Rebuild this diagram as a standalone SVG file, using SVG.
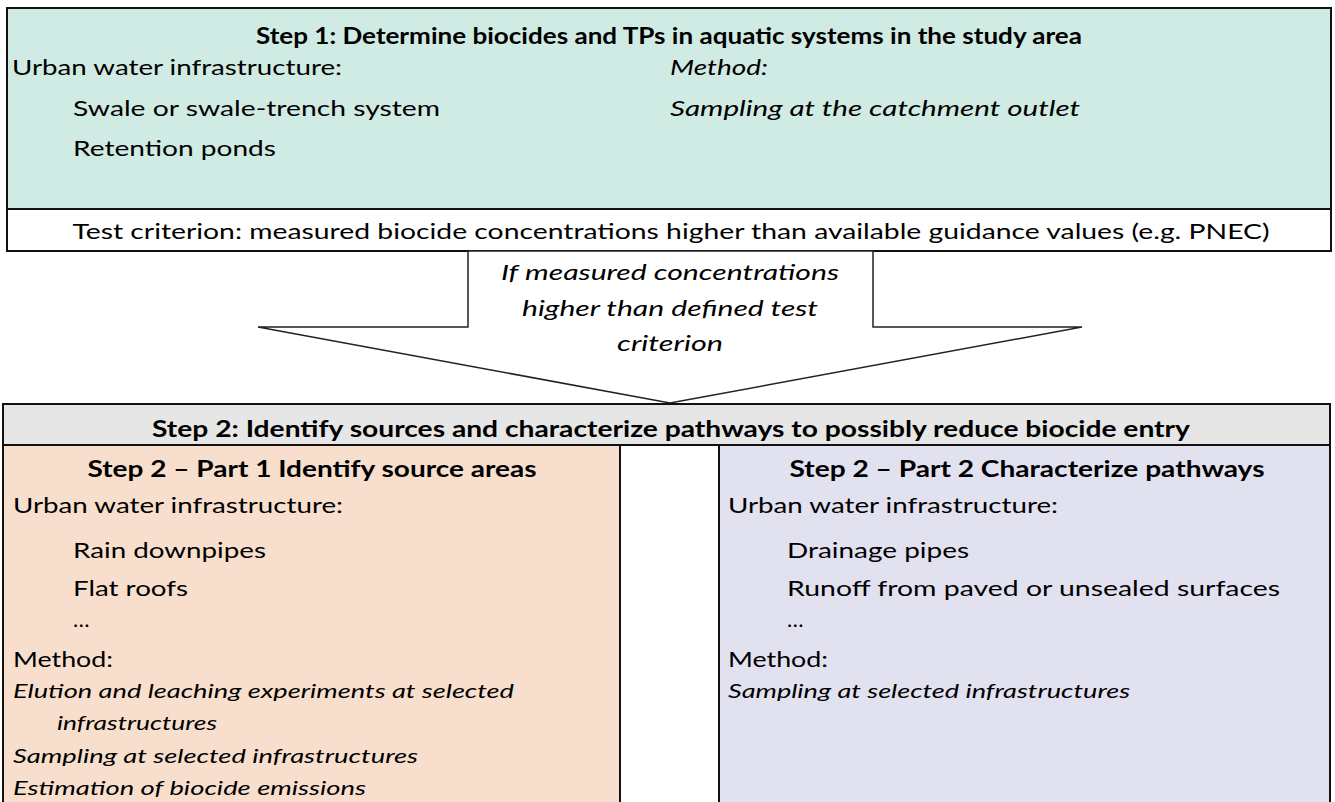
<svg xmlns="http://www.w3.org/2000/svg" width="1335" height="802" viewBox="0 0 1335 802">
<style>
  text { font-family: Lato, "Liberation Sans", sans-serif; fill: #000; }
  .r { font-size: 22px; }
  .b { font-size: 22px; font-weight: bold; }
  .i { font-size: 22px; font-style: italic; }
  .is { font-size: 20px; font-style: italic; }
  .t { font-size: 21px; }
  .c { text-anchor: middle; }
  .box { stroke: #111; stroke-width: 2; }
</style>
<rect width="1335" height="802" fill="#fff"/>

<g id="step1">
  <rect class="box" x="7" y="8" width="1324" height="201" fill="#d0ebe3"/>
  <text class="b c" x="669" y="44" textLength="826" lengthAdjust="spacingAndGlyphs">Step 1: Determine biocides and TPs in aquatic systems in the study area</text>
  <text class="r" x="12" y="75" textLength="330" lengthAdjust="spacingAndGlyphs">Urban water infrastructure:</text>
  <text class="r" x="73" y="116" textLength="367" lengthAdjust="spacingAndGlyphs">Swale or swale-trench system</text>
  <text class="r" x="73" y="156" textLength="203" lengthAdjust="spacingAndGlyphs">Retention ponds</text>
  <text class="i" x="670" y="75" textLength="98" lengthAdjust="spacingAndGlyphs">Method:</text>
  <text class="i" x="670" y="116" textLength="410" lengthAdjust="spacingAndGlyphs">Sampling at the catchment outlet</text>
</g>

<g id="test-criterion">
  <rect class="box" x="7" y="209" width="1324" height="42" fill="#fff"/>
  <text class="t c" x="671" y="239" textLength="1197" lengthAdjust="spacingAndGlyphs">Test criterion: measured biocide concentrations higher than available guidance values (e.g. PNEC)</text>
</g>

<g id="connectors">
  <polygon points="468,251 873,251 873,327 1082,327 670,403 258,327 468,327" fill="#fff" stroke="#222" stroke-width="1.5" stroke-linejoin="miter"/>
  <text class="i c" x="670" y="280" textLength="338" lengthAdjust="spacingAndGlyphs">If measured concentrations</text>
  <text class="i c" x="670" y="316" textLength="296" lengthAdjust="spacingAndGlyphs">higher than defined test</text>
  <text class="i c" x="670" y="351" textLength="106" lengthAdjust="spacingAndGlyphs">criterion</text>
</g>

<g id="step2">
  <rect class="box" x="3" y="404" width="1327" height="41" fill="#e6e6e6"/>
  <text class="b c" x="671" y="437" textLength="1038" lengthAdjust="spacingAndGlyphs">Step 2: Identify sources and characterize pathways to possibly reduce biocide entry</text>
</g>

<g id="step2-part1">
  <rect class="box" x="3" y="445" width="617" height="370" fill="#f8dfcd"/>
  <text class="b c" x="312" y="477" textLength="449" lengthAdjust="spacingAndGlyphs">Step 2 – Part 1 Identify source areas</text>
  <text class="r" x="13" y="513" textLength="330" lengthAdjust="spacingAndGlyphs">Urban water infrastructure:</text>
  <text class="r" x="73" y="558" textLength="193" lengthAdjust="spacingAndGlyphs">Rain downpipes</text>
  <text class="r" x="73" y="596" textLength="115" lengthAdjust="spacingAndGlyphs">Flat roofs</text>
  <text class="r" x="73" y="627" font-size="15">…</text>
  <text class="r" x="13" y="667" textLength="100" lengthAdjust="spacingAndGlyphs">Method:</text>
  <text class="is" x="13" y="698" textLength="501" lengthAdjust="spacingAndGlyphs">Elution and leaching experiments at selected</text>
  <text class="is" x="57" y="730" textLength="160" lengthAdjust="spacingAndGlyphs">infrastructures</text>
  <text class="is" x="13" y="763" textLength="405" lengthAdjust="spacingAndGlyphs">Sampling at selected infrastructures</text>
  <text class="is" x="13" y="795" textLength="353" lengthAdjust="spacingAndGlyphs">Estimation of biocide emissions</text>
</g>

<g id="step2-part2">
  <rect class="box" x="719" y="445" width="611" height="370" fill="#e2e1f0"/>
  <text class="b c" x="1027" y="477" textLength="475" lengthAdjust="spacingAndGlyphs">Step 2 – Part 2 Characterize pathways</text>
  <text class="r" x="728" y="513" textLength="330" lengthAdjust="spacingAndGlyphs">Urban water infrastructure:</text>
  <text class="r" x="787" y="558" textLength="182" lengthAdjust="spacingAndGlyphs">Drainage pipes</text>
  <text class="r" x="787" y="596" textLength="493" lengthAdjust="spacingAndGlyphs">Runoff from paved or unsealed surfaces</text>
  <text class="r" x="787" y="627" font-size="15">…</text>
  <text class="r" x="728" y="667" textLength="100" lengthAdjust="spacingAndGlyphs">Method:</text>
  <text class="is" x="728" y="698" textLength="402" lengthAdjust="spacingAndGlyphs">Sampling at selected infrastructures</text>
</g>
</svg>
